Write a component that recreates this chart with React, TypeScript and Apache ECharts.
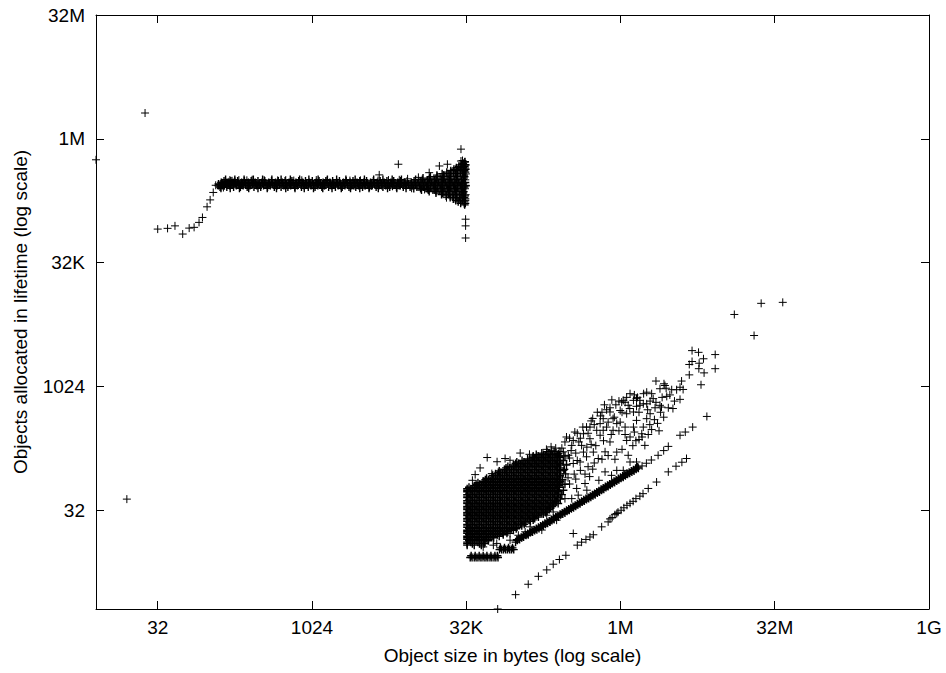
import React, { useEffect, useRef } from 'react';
import * as echarts from 'echarts';

// All data values are log2 exponents: x = log2(object size in bytes), y = log2(objects allocated)
const xTickExps = [5, 10, 15, 20, 25, 30];
const xTickLabels = ['32', '1024', '32K', '1M', '32M', '1G'];
const yTickExps = [5, 10, 15, 20, 25];
const yTickLabels = ['32', '1024', '32K', '1M', '32M'];

const isolatedPoints: number[][] = [[4.59, 21.04], [3.0, 19.15], [4.0, 5.44]];

const upperRamp: number[][] = [
  [5.00,16.35],[5.32,16.38],[5.56,16.48],[5.81,16.15],[6.02,16.39],[6.18,16.42],[6.34,16.62],[6.45,16.82],
  [6.60,17.25],[6.70,17.53],[6.80,17.83],[6.88,18.12],[6.96,18.10],[7.02,18.15],[7.05,18.06],[7.09,18.22],
  [7.13,18.03],[7.17,18.10],[7.20,18.28],[7.24,18.23],[7.28,18.18],[7.31,18.26],[7.34,18.33],[7.38,18.14],
  [7.41,18.30],[7.45,18.23],[7.47,18.20],
];

// Dense upper band, one row per count level: [log2(count), log2(sizes)]
const upperBandRows: [number, number[]][] = [
  [18.00, [7.05,7.35,7.65,7.95,8.25,8.55,8.85,9.15,9.45,9.75,10.05,10.35,10.65,10.95,11.25,11.55,11.85,12.15,12.45,12.75,13.05]],
  [18.05, [7.02,7.24,7.46,7.68,7.90,8.12,8.34,8.56,8.78,9.00,9.22,9.44,9.66,9.88,10.10,10.32,10.54,10.76,10.98,11.20,11.42,11.64,11.86,12.08,12.30,12.52,12.74,12.96,13.18,13.40,13.62,13.84,14.06,14.28,14.50,14.72,14.94]],
  [18.11, [7.11,7.33,7.55,7.77,7.99,8.21,8.43,8.65,8.87,9.09,9.31,9.53,9.75,9.97,10.19,10.41,10.63,10.85,11.07,11.29,11.51,11.73,11.95,12.17,12.39,12.61,12.83,13.05,13.27,13.49,13.71,13.93,14.15,14.37,14.59,14.81,14.98]],
  [18.17, [6.97,7.19,7.41,7.63,7.85,8.07,8.29,8.51,8.73,8.95,9.17,9.39,9.61,9.83,10.05,10.27,10.49,10.71,10.93,11.15,11.37,11.59,11.81,12.03,12.25,12.47,12.69,12.91,13.13,13.35,13.57,13.79,14.01,14.23,14.45,14.67,14.89]],
  [18.20, [7.08,7.30,7.52,7.74,7.96,8.18,8.40,8.62,8.84,9.06,9.28,9.50,9.72,9.94,10.16,10.38,10.60,10.82,11.04,11.26,11.48,11.70,11.92,12.14,12.36,12.58,12.80,13.02]],
  [18.23, [7.06,7.28,7.50,7.72,7.94,8.16,8.38,8.60,8.82,9.04,9.26,9.48,9.70,9.92,10.14,10.36,10.58,10.80,11.02,11.24,11.46,11.68,11.90,12.12,12.34,12.56,12.78,13.00,13.22,13.44,13.66,13.88,14.10,14.32,14.54,14.76,14.97]],
  [18.29, [7.15,7.37,7.59,7.81,8.03,8.25,8.47,8.69,8.91,9.13,9.35,9.57,9.79,10.01,10.23,10.45,10.67,10.89,11.11,11.33,11.55,11.77,11.99,12.21,12.43,12.65,12.87,13.09,13.31,13.53,13.75,13.97,14.19,14.41,14.63,14.85]],
  [18.35, [7.20,7.50,7.80,8.10,8.40,8.70,9.00,9.30,9.60,9.90,10.20,10.50,10.80,11.10,11.40,11.70,12.00,12.30,12.60,12.90]],
  [17.99, [13.30,13.52,13.74,13.96,14.18,14.40,14.62,14.84]],
  [18.35, [13.36,13.58,13.80,14.02,14.24,14.46,14.68,14.90]],
  [17.93, [13.55,13.77,13.99,14.21,14.43,14.65,14.87]],
  [18.41, [13.60,13.82,14.04,14.26,14.48,14.70,14.92]],
  [17.87, [13.80,14.02,14.24,14.46,14.68,14.90]],
  [18.47, [13.84,14.06,14.28,14.50,14.72,14.94]],
  [17.81, [14.02,14.24,14.46,14.68,14.90]],
  [18.53, [14.05,14.27,14.49,14.71,14.93]],
  [17.75, [14.20,14.42,14.64,14.86]],
  [18.59, [14.22,14.44,14.66,14.88]],
  [17.69, [14.35,14.57,14.79,14.96]],
  [18.65, [14.37,14.59,14.81,14.97]],
  [17.63, [14.48,14.70,14.92]],
  [18.71, [14.50,14.72,14.94]],
  [17.57, [14.58,14.80,14.97]],
  [18.77, [14.60,14.82,14.98]],
  [17.51, [14.66,14.88]],
  [18.83, [14.68,14.90]],
  [17.45, [14.74,14.94]],
  [18.89, [14.76,14.95]],
  [17.39, [14.82,14.97]],
  [18.95, [14.84,14.97]],
  [19.01, [14.90]],
  [19.07, [14.96]],
  [17.33, [14.95]],
];

const upperBandScatter: number[][] = [
  [7.50,18.29],[7.59,18.26],[7.63,18.33],[7.72,18.15],[7.89,18.32],[8.06,18.34],[8.19,18.14],[8.45,18.33],
  [8.58,18.15],[8.80,18.13],[8.89,18.32],[9.15,18.33],[9.28,18.14],[9.41,18.31],[9.67,18.32],[9.80,18.13],
  [10.14,18.33],[10.19,18.14],[10.40,18.12],[10.49,18.31],[10.71,18.13],[10.92,18.11],[11.23,18.31],[11.36,18.10],
  [11.57,18.32],[11.70,18.12],[11.92,18.09],[12.14,18.31],[12.27,18.10],[12.48,18.33],[12.61,18.08],[12.83,18.34],
  [12.87,18.11],[13.10,18.38],[13.23,18.00],[13.45,18.44],[13.65,17.95],
  [14.93,17.38],[14.97,17.50],[14.94,17.62],[14.98,17.74],[14.92,17.86],[14.96,17.98],[14.99,18.10],[14.93,18.22],
  [14.97,18.34],[14.94,18.46],[14.99,18.58],[14.92,18.70],[14.96,18.82],[14.98,18.94],[14.95,19.06],[14.88,19.12],
  [14.83,19.58],[14.83,19.10],[12.80,18.97],[14.13,18.90],[14.39,18.97],[12.18,18.54],[13.80,18.63],
  [14.36,17.62],[14.98,16.75],[14.98,16.48],[14.98,15.99],
];

// Dense low cluster near 32K..256K, one row per count level: [log2(count), log2(sizes)]
const lowerBlobRows: [number, number[]][] = [
  [3.08, [15.13,15.19,15.26,15.32,15.38,15.45,15.51,15.58,15.64,15.70,15.77,15.83,15.90,15.96,16.03]],
  [3.15, [15.16,15.29,15.42,15.55,15.67,15.80,15.93,16.01]],
  [3.40, [16.08,16.15,16.21,16.28,16.34,16.41,16.47,16.54]],
  [3.47, [16.11,16.24,16.37,16.50]],
  [3.58, [15.03,15.26,15.49]],
  [3.64, [15.03,15.20,15.43,15.58]],
  [3.70, [15.03,15.15,15.38,15.61]],
  [3.76, [15.09,15.32,15.55,15.72]],
  [3.82, [15.03,15.26,15.49,15.72]],
  [3.88, [15.03,15.20,15.43,15.66,15.89]],
  [3.94, [15.03,15.15,15.38,15.61,15.84,16.07]],
  [4.00, [15.09,15.32,15.55,15.78,16.01,16.20]],
  [4.06, [15.03,15.26,15.49,15.72,15.95,16.18,16.32]],
  [4.12, [15.03,15.20,15.43,15.66,15.89,16.12,16.35]],
  [4.18, [15.03,15.15,15.38,15.61,15.84,16.07,16.30,16.53]],
  [4.24, [15.09,15.32,15.55,15.78,16.01,16.24,16.47,16.62]],
  [4.30, [15.03,15.26,15.49,15.72,15.95,16.18,16.41,16.64]],
  [4.36, [15.03,15.20,15.43,15.66,15.89,16.12,16.35,16.58,16.80]],
  [4.42, [15.03,15.15,15.38,15.61,15.84,16.07,16.30,16.53,16.76,16.88]],
  [4.48, [15.09,15.32,15.55,15.78,16.01,16.24,16.47,16.70,16.93]],
  [4.54, [15.03,15.26,15.49,15.72,15.95,16.18,16.41,16.64,16.87,17.08]],
  [4.60, [15.03,15.20,15.43,15.66,15.89,16.12,16.35,16.58,16.81,17.04,17.17]],
  [4.66, [15.03,15.15,15.38,15.61,15.84,16.07,16.30,16.53,16.76,16.99,17.22]],
  [4.72, [15.09,15.32,15.55,15.78,16.01,16.24,16.47,16.70,16.93,17.16,17.34]],
  [4.78, [15.03,15.26,15.49,15.72,15.95,16.18,16.41,16.64,16.87,17.10,17.33]],
  [4.84, [15.03,15.20,15.43,15.66,15.89,16.12,16.35,16.58,16.81,17.04,17.27,17.50]],
  [4.90, [15.03,15.15,15.38,15.61,15.84,16.07,16.30,16.53,16.76,16.99,17.22,17.45,17.57]],
  [4.96, [15.09,15.32,15.55,15.78,16.01,16.24,16.47,16.70,16.93,17.16,17.39,17.62]],
  [5.02, [15.03,15.26,15.49,15.72,15.95,16.18,16.41,16.64,16.87,17.10,17.33,17.56,17.69]],
  [5.08, [15.03,15.20,15.43,15.66,15.89,16.12,16.35,16.58,16.81,17.04,17.27,17.50,17.73]],
  [5.14, [15.03,15.15,15.38,15.61,15.84,16.07,16.30,16.53,16.76,16.99,17.22,17.45,17.68,17.79]],
  [5.20, [15.09,15.32,15.55,15.78,16.01,16.24,16.47,16.70,16.93,17.16,17.39,17.62,17.83]],
  [5.26, [15.03,15.26,15.49,15.72,15.95,16.18,16.41,16.64,16.87,17.10,17.33,17.56,17.79,17.98]],
  [5.32, [15.03,15.20,15.43,15.66,15.89,16.12,16.35,16.58,16.81,17.04,17.27,17.50,17.73,17.88]],
  [5.38, [15.03,15.15,15.38,15.61,15.84,16.07,16.30,16.53,16.76,16.99,17.22,17.45,17.68,17.91]],
  [5.44, [15.09,15.32,15.55,15.78,16.01,16.24,16.47,16.70,16.93,17.16,17.39,17.62,17.85,18.05]],
  [5.50, [15.03,15.26,15.49,15.72,15.95,16.18,16.41,16.64,16.87,17.10,17.33,17.56,17.79,17.97]],
  [5.56, [15.03,15.20,15.43,15.66,15.89,16.12,16.35,16.58,16.81,17.04,17.27,17.50,17.73,17.96]],
  [5.62, [15.03,15.15,15.38,15.61,15.84,16.07,16.30,16.53,16.76,16.99,17.22,17.45,17.68,17.91,18.10]],
  [5.68, [15.09,15.32,15.55,15.78,16.01,16.24,16.47,16.70,16.93,17.16,17.39,17.62,17.85,17.99]],
  [5.74, [15.03,15.26,15.49,15.72,15.95,16.18,16.41,16.64,16.87,17.10,17.33,17.56,17.79,17.99]],
  [5.80, [15.03,15.20,15.43,15.66,15.89,16.12,16.35,16.58,16.81,17.04,17.27,17.50,17.73,17.96,18.15]],
  [5.86, [15.03,15.15,15.38,15.61,15.84,16.07,16.30,16.53,16.76,16.99,17.22,17.45,17.68,17.91]],
  [5.92, [15.09,15.32,15.55,15.78,16.01,16.24,16.47,16.70,16.93,17.16,17.39,17.62,17.85,18.01]],
  [5.98, [15.26,15.49,15.72,15.95,16.18,16.41,16.64,16.87,17.10,17.33,17.56,17.79,18.02]],
  [6.04, [15.32,15.43,15.66,15.89,16.12,16.35,16.58,16.81,17.04,17.27,17.50,17.73,17.96,18.20]],
  [6.10, [15.38,15.61,15.84,16.07,16.30,16.53,16.76,16.99,17.22,17.45,17.68,17.91,18.03]],
  [6.16, [15.55,15.78,16.01,16.24,16.47,16.70,16.93,17.16,17.39,17.62,17.85,18.04]],
  [6.22, [15.62,15.72,15.95,16.18,16.41,16.64,16.87,17.10,17.33,17.56,17.79,18.02,18.12]],
  [6.28, [15.66,15.89,16.12,16.35,16.58,16.81,17.04,17.27,17.50,17.73,17.96]],
  [6.34, [15.84,16.07,16.30,16.53,16.76,16.99,17.22,17.45,17.68,17.91,18.04]],
  [6.40, [15.86,16.01,16.24,16.47,16.70,16.93,17.16,17.39,17.62,17.85,18.04]],
  [6.46, [15.95,16.18,16.41,16.64,16.87,17.10,17.33,17.56,17.79,18.02,18.22]],
  [6.52, [16.04,16.12,16.35,16.58,16.81,17.04,17.27,17.50,17.73,17.96]],
  [6.58, [16.07,16.30,16.53,16.76,16.99,17.22,17.45,17.68,17.91,18.04]],
  [6.64, [16.24,16.47,16.70,16.93,17.16,17.39,17.62,17.85,18.04,18.18]],
  [6.70, [16.29,16.41,16.64,16.87,17.10,17.33,17.56,17.79,18.02]],
  [6.76, [16.35,16.58,16.81,17.04,17.27,17.50,17.73,17.96]],
  [6.82, [16.53,16.76,16.99,17.22,17.45,17.68,17.91,18.04,18.25]],
  [6.88, [16.60,16.70,16.93,17.16,17.39,17.62,17.85,18.04]],
  [6.94, [16.64,16.87,17.10,17.33,17.56,17.79,18.02]],
  [7.00, [16.81,17.04,17.27,17.50,17.73,17.96,18.15]],
  [7.06, [16.99,17.22,17.45,17.68,17.91]],
  [7.12, [17.16,17.39,17.62,17.85,18.04]],
  [7.18, [17.17,17.33,17.56,17.79,18.02,18.20]],
  [7.24, [17.27,17.50,17.73,17.96]],
  [7.30, [17.45,17.68,17.91]],
  [7.36, [17.62,17.85,18.04]],
];

const ridgePoints: number[][] = [
  [16.60,3.70],[16.66,3.78],[16.73,3.81],[16.80,3.88],[16.86,3.91],[16.94,3.98],[17.01,4.00],[17.08,4.09],
  [17.15,4.11],[17.22,4.17],[17.29,4.20],[17.36,4.25],[17.43,4.32],[17.50,4.35],[17.57,4.42],[17.64,4.46],
  [17.71,4.52],[17.78,4.58],[17.85,4.62],[17.92,4.70],[17.99,4.72],[18.06,4.81],[18.13,4.84],[18.20,4.88],
  [18.27,4.95],[18.34,4.99],[18.41,5.05],[18.48,5.09],[18.55,5.15],[18.62,5.21],[18.69,5.25],[18.76,5.32],
  [18.83,5.36],[18.90,5.42],[18.97,5.46],[19.04,5.52],[19.11,5.58],[19.18,5.62],[19.25,5.69],[19.32,5.73],
  [19.39,5.80],[19.46,5.84],[19.53,5.91],[19.60,5.95],[19.67,6.01],[19.74,6.07],[19.81,6.11],[19.88,6.17],
  [19.95,6.22],[20.02,6.28],[20.09,6.32],[20.16,6.38],[20.23,6.44],[20.30,6.48],[20.37,6.54],[20.44,6.58],
  [20.51,6.65],[20.58,6.69],
  [16.64,3.80],[16.71,3.85],[16.78,3.90],[16.85,3.95],[16.92,4.00],[16.99,4.05],[17.06,4.10],[17.13,4.15],
  [17.20,4.20],[17.27,4.25],[17.34,4.30],[17.41,4.35],[17.48,4.40],[17.55,4.46],[17.62,4.51],[17.69,4.56],
  [17.76,4.62],[17.83,4.67],[17.90,4.72],[17.97,4.78],[18.04,4.83],[18.11,4.88],[18.18,4.93],[18.25,4.99],
  [18.32,5.04],[18.39,5.09],[18.46,5.14],[18.53,5.19],[18.60,5.25],[18.67,5.30],[18.74,5.35],[18.81,5.41],
  [18.88,5.46],[18.95,5.51],[19.02,5.56],[19.09,5.62],[19.16,5.67],[19.23,5.73],[19.30,5.78],[19.37,5.84],
  [19.44,5.89],[19.51,5.95],[19.58,6.00],[19.65,6.05],[19.72,6.11],[19.79,6.16],[19.86,6.21],[19.93,6.27],
  [20.00,6.32],[20.07,6.37],[20.14,6.42],[20.21,6.48],[20.28,6.53],[20.35,6.58],[20.42,6.63],[20.49,6.69],
  [20.56,6.74],
];

const ridgeTail: number[][] = [
  [20.70,6.78],[20.84,6.89],[21.00,7.02],[21.22,7.21],[21.40,7.40],[21.55,7.57],[21.93,8.02],[22.10,8.15],
  [22.34,8.35],[22.80,8.78],
];

const lowerLinePoints: number[][] = [
  [16.02,1.00],[16.60,1.58],[17.01,2.00],[17.34,2.32],[17.61,2.58],[17.82,2.81],[18.02,3.00],[18.23,3.17],
  [18.60,3.58],[18.74,3.70],[18.88,3.81],[19.01,3.91],[19.12,4.00],[19.39,4.32],[19.60,4.52],[19.66,4.64],
  [19.73,4.70],[19.82,4.81],[19.88,4.86],[19.92,4.91],[20.02,4.99],[20.11,5.09],[20.21,5.19],[20.31,5.27],
  [20.41,5.35],[20.50,5.46],[20.63,5.56],[20.73,5.66],[20.90,5.87],[21.17,6.13],[21.55,6.54],[21.80,6.77],
  [21.99,6.93],[22.14,7.08],
];

const cloudPoints: number[][] = [
  [22.32,11.44],[22.53,11.37],[22.69,11.11],[23.07,11.28],[22.23,10.88],[22.32,11.00],[22.55,10.93],[22.54,10.71],
  [22.71,10.54],[23.07,10.71],[22.23,10.46],[21.98,10.21],[21.15,10.21],[21.41,10.10],[21.93,9.96],[22.03,9.87],
  [22.61,10.06],[21.28,9.90],[21.48,9.92],[21.66,9.86],[21.82,9.86],[21.50,9.59],[21.93,9.47],[20.85,9.76],
  [21.01,9.70],[20.31,9.70],[20.09,9.43],[20.42,9.43],[20.63,9.43],[20.96,9.40],[21.06,9.50],[20.25,9.23],
  [20.52,9.19],[20.74,9.29],[21.33,9.16],[21.55,9.13],[21.12,9.13],[19.66,9.13],[19.99,9.02],[20.20,8.89],
  [20.42,8.96],[20.85,8.69],[19.44,8.69],[19.76,8.69],[19.99,8.55],[20.42,8.35],[20.74,8.35],[21.01,8.25],
  [19.55,8.35],[19.76,8.22],[20.31,7.95],[20.69,8.08],[19.34,8.49],[19.44,8.22],[21.44,10.03],[20.52,9.50],
  [20.04,9.36],[20.85,9.29],[20.63,9.23],[21.28,9.23],[19.66,8.96],[19.60,8.55],[19.88,8.49],[20.52,8.62],
  [20.96,8.89],[20.15,8.35],[19.01,8.35],[18.80,8.08],[19.23,8.22],[19.01,7.88],[19.34,8.02],[19.66,7.75],
  [20.20,7.81],[20.79,7.61],[18.47,7.81],[18.20,7.75],[18.42,7.61],[18.74,7.61],[18.91,7.54],[18.80,7.34],
  [19.12,7.34],[19.28,7.08],[19.88,7.34],[20.25,7.21],[20.31,6.94],[20.52,6.94],[19.88,6.60],[20.09,6.60],
  [19.50,6.54],[19.71,6.40],[17.77,7.41],[17.99,7.28],[18.04,7.01],[18.31,7.21],[18.47,6.88],[18.69,6.94],
  [18.15,6.60],[18.58,5.87],[18.85,6.07],[18.91,5.80],[18.20,5.46],[18.42,5.46],[18.63,5.60],[17.93,5.33],
  [17.82,4.92],[17.61,4.79],[18.10,7.50],[18.35,7.10],[18.55,7.30],[18.25,6.85],[18.60,7.00],[18.90,7.15],
  [18.15,7.35],[17.45,4.19],[17.72,4.52],[17.93,4.59],[17.07,4.32],[16.91,4.12],[16.42,3.78],[16.69,3.98],
  [15.99,3.65],[16.42,4.05],[16.53,4.19],[16.80,4.43],[15.55,3.51],[15.88,3.58],[15.68,7.12],[15.29,6.43],
  [15.83,6.47],[16.42,7.01],[16.26,7.08],[17.05,7.25],[17.60,7.45],[17.90,7.50],[17.75,7.55],[18.47,4.05],
  [18.30,6.30],[18.50,6.45],[18.70,6.60],[18.95,6.75],[19.15,6.90],[19.40,7.05],[19.60,7.20],[19.82,7.05],
  [20.05,7.45],[20.40,7.60],[20.60,7.85],[20.90,8.05],[21.20,8.50],[21.40,8.75],[21.70,9.10],[19.20,7.60],
  [19.45,7.80],[19.70,8.05],[19.95,8.20],[20.15,8.05],[20.45,8.15],[18.70,7.90],[18.95,8.10],[19.15,8.45],
  [19.35,8.80],[19.55,9.05],[19.85,9.25],[20.15,9.35],[20.55,9.55],[20.75,9.70],[18.40,7.40],[18.65,7.75],
  [19.05,7.65],[19.50,7.35],[18.85,6.45],[19.10,6.65],[18.35,6.05],[18.55,6.25],[19.30,6.20],[19.00,6.35],
  [18.25,7.95],[18.52,8.15],[18.78,8.35],[19.05,8.60],[19.25,8.95],[19.48,9.25],[19.72,9.45],[19.95,9.40],
  [20.20,9.55],[20.45,9.65],[18.60,8.10],[18.90,8.35],[19.10,8.70],[19.40,8.95],[18.35,7.90],[19.80,8.75],
  [20.05,8.95],[20.30,9.10],[20.60,8.95],[20.88,9.05],[21.15,9.35],[21.35,9.55],[21.60,9.65],[21.75,9.40],
  [21.30,8.95],[21.10,8.65],[20.95,8.45],[21.25,8.20],[20.70,7.95],[20.50,7.80],
  [15.45,6.70],[15.20,6.20],[16.00,6.95],[16.75,7.30],
];

const farOutliers: number[][] = [[23.69,12.90],[24.33,12.05],[24.56,13.35],[25.26,13.39]];

const PLUS = 'path://M0,4L8,4M4,0L4,8';
const FONT = "'Liberation Sans', Arial, Helvetica, sans-serif";

function makeFormatter(exps: number[], labels: string[]) {
  return (v: number) => {
    const r = Math.round(v);
    if (Math.abs(v - r) > 1e-6) return '';
    const i = exps.indexOf(r);
    return i >= 0 ? labels[i] : '';
  };
}

const rowsToPoints = (rows: [number, number[]][]) => rows.flatMap(([y, xs]) => xs.map((x) => [x, y]));

export default function App() {
  const ref = useRef<HTMLDivElement>(null);
  useEffect(() => {
    if (!ref.current) return;
    const chart = echarts.init(ref.current, null, { renderer: 'svg' });
    const denseData = [...rowsToPoints(upperBandRows), ...rowsToPoints(lowerBlobRows), ...ridgePoints];
    const sparseData = [
      ...isolatedPoints, ...upperRamp, ...upperBandScatter, ...ridgeTail, ...lowerLinePoints, ...cloudPoints, ...farOutliers,
    ];
    const line = { show: true, onZero: false, lineStyle: { color: '#000', width: 1 } };
    const tick = (vals: number[]) => ({ show: true, inside: true, length: 8, customValues: vals, lineStyle: { color: '#000', width: 1 } });
    const text = { color: '#000', fontSize: 19, fontFamily: FONT };
    const scatter = (data: number[][], width: number) => ({
      type: 'scatter', xAxisIndex: 0, yAxisIndex: 0, data, symbol: PLUS, symbolSize: 8,
      itemStyle: { color: 'rgba(0,0,0,0)', borderColor: '#000', borderWidth: width, opacity: 1 },
      silent: true, emphasis: { disabled: true }, clip: false, large: false,
    });
    const option: any = {
      animation: false,
      backgroundColor: '#fff',
      textStyle: { fontFamily: FONT },
      grid: { left: 96, right: 17, top: 15, bottom: 64, containLabel: false, outerBoundsMode: 'none' },
      xAxis: [
        {
          type: 'value', min: 3, max: 30, position: 'bottom', axisLine: line, axisTick: tick(xTickExps),
          splitLine: { show: false },
          axisLabel: { ...text, customValues: xTickExps, formatter: makeFormatter(xTickExps, xTickLabels), margin: 9 },
          name: 'Object size in bytes (log scale)', nameLocation: 'middle', nameGap: 37, nameTextStyle: text,
        },
        {
          type: 'value', min: 3, max: 30, position: 'top', axisLine: line, axisTick: tick(xTickExps),
          splitLine: { show: false }, axisLabel: { show: false },
        },
      ],
      yAxis: [
        {
          type: 'value', min: 1, max: 25, position: 'left', axisLine: line, axisTick: tick(yTickExps),
          splitLine: { show: false },
          axisLabel: { ...text, customValues: yTickExps, formatter: makeFormatter(yTickExps, yTickLabels), margin: 11 },
          name: 'Objects allocated in lifetime (log scale)', nameLocation: 'middle', nameGap: 66, nameTextStyle: text,
        },
        {
          type: 'value', min: 1, max: 25, position: 'right', axisLine: line, axisTick: tick(yTickExps),
          splitLine: { show: false }, axisLabel: { show: false },
        },
      ],
      series: [scatter(denseData, 1.4), scatter(sparseData, 1)],
    };
    chart.setOption(option);
    return () => chart.dispose();
  }, []);
  return <div ref={ref} style={{ position: 'absolute', left: 0, top: 0, width: 946, height: 673 }} />;
}
